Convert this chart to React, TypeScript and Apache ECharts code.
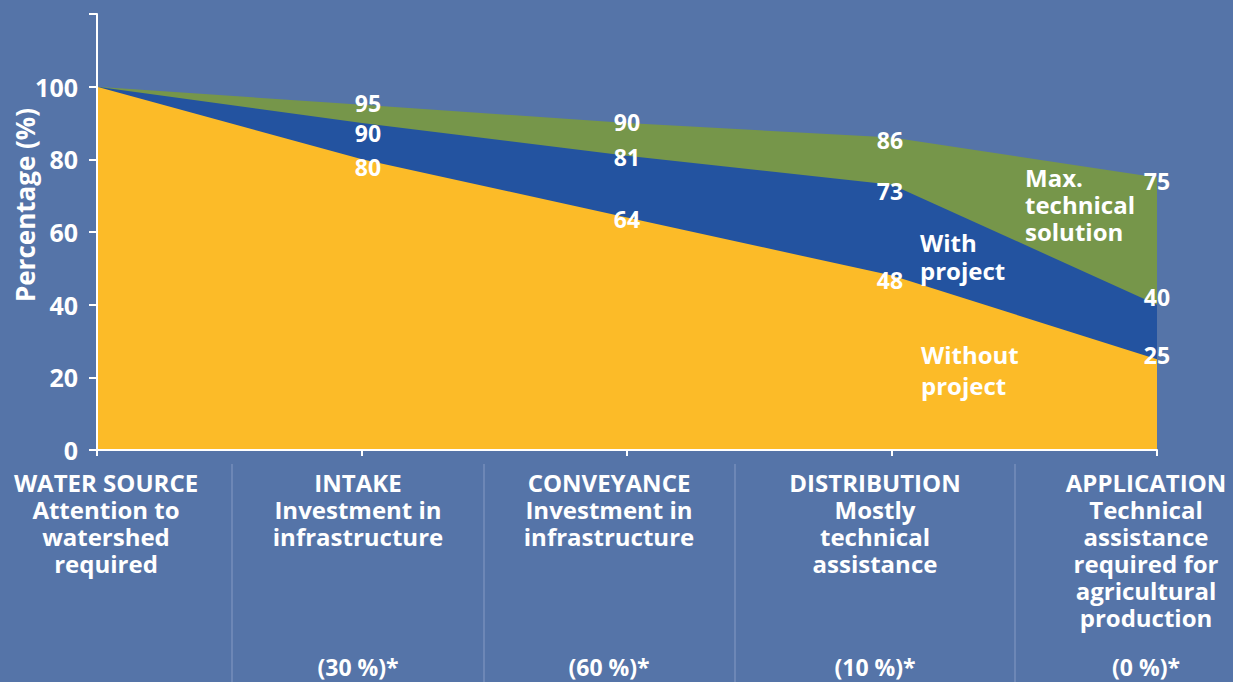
import React, { useEffect, useRef } from "react";
import * as echarts from "echarts";

const categories = ["WATER SOURCE", "INTAKE", "CONVEYANCE", "DISTRIBUTION", "APPLICATION"];
const categoryNotes = [
  "Attention to\nwatershed\nrequired",
  "Investment in\ninfrastructure",
  "Investment in\ninfrastructure",
  "Mostly\ntechnical\nassistance",
  "Technical\nassistance\nrequired for\nagricultural\nproduction",
];
const shares = ["", "(30 %)*", "(60 %)*", "(10 %)*", "(0 %)*"];
const maxTechnical = [100, 95, 90, 86, 75];
const withProject = [100, 90, 81, 73, 40];
const withoutProject = [100, 80, 64, 48, 25];
const yTicks = [0, 20, 40, 60, 80, 100, 120];

const BG = "#5574a8";
const GREEN = "#76964a";
const BLUE = "#2353a0";
const YELLOW = "#fcbb28";
const FONT = "Open Sans";

// label offsets (dx, dy) per point, for readability
const greenOff = [null, [6, -2], [0, -1], [-2, 2], [0, 3]];
const blueOff = [null, [6, 10], [0, 1], [-2, 6], [0, -8]];
const yellowOff = [null, [6, 8], [0, 2], [-2, 4], [0, -4]];

function makeData(vals: number[], offs: any[]) {
  return vals.map((v, i) => ({
    value: v,
    label: offs[i]
      ? { show: true, position: "inside", offset: offs[i] }
      : { show: false },
  }));
}

function series(name: string, vals: number[], offs: any[], color: string) {
  return {
    name,
    type: "line",
    data: makeData(vals, offs),
    symbol: "circle",
    symbolSize: 0.1,
    showSymbol: true,
    itemStyle: { color },
    lineStyle: { width: 0, color },
    areaStyle: { color, opacity: 1 },
    label: {
      color: "#ffffff",
      fontFamily: FONT,
      fontWeight: "bold",
      fontSize: 23,
    },
    emphasis: { disabled: true },
  };
}

export default function App() {
  const ref = useRef<HTMLDivElement>(null);
  useEffect(() => {
    document.body.style.margin = "0";
    document.body.style.background = BG;
    const chart = echarts.init(ref.current!, null, { renderer: "svg" });
    const colCenters = [106, 358, 609, 875, 1146];
    const separators = [232, 484, 735, 1015];
    const graphic: any[] = [];
    separators.forEach((x) =>
      graphic.push({
        type: "line",
        shape: { x1: x, y1: 464, x2: x, y2: 682 },
        style: { stroke: "#6d87b6", lineWidth: 2 },
        silent: true,
      })
    );
    categories.forEach((c, i) => {
      graphic.push({
        type: "text",
        x: colCenters[i],
        y: 469,
        style: {
          text: c + "\n" + categoryNotes[i],
          fill: "#ffffff",
          font: `bold 24px "${FONT}"`,
          align: "center",
          verticalAlign: "top",
          lineHeight: 27,
        },
      });
      if (shares[i]) {
        graphic.push({
          type: "text",
          x: colCenters[i],
          y: 667,
          style: {
            text: shares[i],
            fill: "#ffffff",
            font: `bold 23px "${FONT}"`,
            align: "center",
            verticalAlign: "middle",
          },
        });
      }
    });
    const areaLabel = (text: string, x: number, y: number, lh: number) => ({
      type: "text",
      x,
      y,
      z: 100,
      style: {
        text,
        fill: "#ffffff",
        font: `bold 24px "${FONT}"`,
        align: "left",
        verticalAlign: "top",
        lineHeight: lh,
      },
    });
    graphic.push(areaLabel("Max.\ntechnical\nsolution", 1025, 164, 27));
    graphic.push(areaLabel("With\nproject", 920, 228, 28));
    graphic.push(areaLabel("Without\nproject", 921, 339, 31));
    graphic.push({
      type: "text",
      x: 25,
      y: 205,
      rotation: Math.PI / 2,
      style: {
        text: "Percentage (%)",
        fill: "#ffffff",
        font: `bold 26px "${FONT}"`,
        align: "center",
        verticalAlign: "middle",
      },
    });

    chart.setOption({
      animation: false,
      backgroundColor: BG,
      grid: { left: 97, right: 76, top: 14, bottom: 232 },
      xAxis: {
        type: "category",
        data: categories,
        boundaryGap: false,
        axisLine: { lineStyle: { color: "#ffffff", width: 2 } },
        axisTick: { show: true, length: 6, lineStyle: { color: "#ffffff", width: 2 } },
        axisLabel: { show: false },
        splitLine: { show: false },
        z: 10,
      },
      yAxis: {
        type: "value",
        min: yTicks[0],
        max: yTicks[yTicks.length - 1],
        interval: 20,
        axisLine: { show: true, lineStyle: { color: "#ffffff", width: 2 } },
        axisTick: { show: true, length: 8, lineStyle: { color: "#ffffff", width: 2 } },
        axisLabel: {
          color: "#ffffff",
          fontFamily: FONT,
          fontWeight: "bold",
          fontSize: 25,
          margin: 19,
          formatter: (v: number) => (v === 120 ? "" : String(v)),
        },
        splitLine: { show: false },
        z: 10,
      },
      series: [
        series("Max. technical solution", maxTechnical, greenOff, GREEN),
        series("With project", withProject, blueOff, BLUE),
        series("Without project", withoutProject, yellowOff, YELLOW),
      ],
      graphic,
    });
    return () => chart.dispose();
  }, []);
  return <div ref={ref} style={{ width: 1233, height: 682 }} />;
}
